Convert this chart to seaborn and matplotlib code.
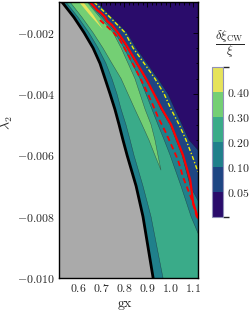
import numpy as np
import matplotlib
matplotlib.use('Agg')
import matplotlib as mpl
import matplotlib.pyplot as plt
import seaborn as sns
from matplotlib.colors import ListedColormap, BoundaryNorm
from matplotlib.ticker import MultipleLocator, FuncFormatter

sns.set_theme(style='ticks')
plt.rcParams['font.family'] = ['DejaVu Serif']
plt.rcParams['mathtext.fontset'] = 'cm'

# ---- data (gx position of each contour edge at given lambda_2) ----
lam_rows = [-0.0010, -0.0015, -0.0020, -0.0025, -0.0030, -0.0035, -0.0040, -0.0045,
            -0.0050, -0.0055, -0.0060, -0.0070, -0.0080, -0.0090, -0.0100]

# edge of the excluded (gray) region, thick black line
gx_excl = [0.530, 0.582, 0.626, 0.665, 0.695, 0.717, 0.739, 0.760,
           0.778, 0.795, 0.813, 0.852, 0.882, 0.904, 0.926]
# 0.10 / 0.20 edge on the left side
gx_lev10_left = [0.547, 0.600, 0.647, 0.687, 0.721, 0.747, 0.769, 0.787,
                 0.808, 0.826, 0.843, 0.882, 0.917, 0.943, 0.969]

# 0.30 "tongue"
lam_tongue = [-0.0010, -0.0015, -0.0020, -0.0025, -0.0030, -0.0035, -0.0040, -0.0045,
              -0.0050, -0.0055, -0.0060, -0.00648]
gx_tongue_left = [0.565, 0.617, 0.665, 0.708, 0.747, 0.787, 0.817, 0.847, 0.878, 0.908, 0.934, 0.960]
gx_tongue_right = [0.639, 0.695, 0.752, 0.787, 0.817, 0.847, 0.869, 0.891, 0.917, 0.934, 0.947, 0.960]

# 0.40 sliver at the top
lam_top = [-0.0010, -0.0014, -0.0019]
gx_top_left = [0.604, 0.648, 0.708]
gx_top_right = [0.622, 0.664, 0.708]

# 0.20 / 0.10 edge on the right side
lam_lev20 = lam_rows[:13] + [-0.0087]
gx_lev20 = [0.643, 0.704, 0.760, 0.800, 0.834, 0.869, 0.895, 0.921,
            0.947, 0.974, 1.000, 1.047, 1.091, 1.130]
# 0.10 / 0.05 edge
lam_lev10 = lam_rows[:12] + [-0.0076]
gx_lev10 = [0.647, 0.713, 0.769, 0.813, 0.852, 0.891, 0.930, 0.960,
            1.000, 1.026, 1.052, 1.087, 1.130]
# 0.05 edge
lam_lev05 = lam_rows[:10] + [-0.0059]
gx_lev05 = [0.682, 0.747, 0.813, 0.852, 0.900, 0.947, 0.991, 1.021, 1.052, 1.082, 1.130]

# red solid line
lam_red = [-0.00100, -0.00126, -0.00136, -0.00149, -0.00162, -0.00175, -0.00201, -0.00234,
           -0.0025, -0.0030, -0.0035, -0.0040, -0.0045, -0.0050, -0.0055, -0.0060,
           -0.0068, -0.00755, -0.00804]
gx_red = [0.652, 0.682, 0.700, 0.717, 0.726, 0.747, 0.774, 0.804,
          0.817, 0.856, 0.895, 0.930, 0.965, 1.004, 1.030, 1.056,
          1.087, 1.100, 1.121]
# red dashed line
lam_red_dash = [-0.00159, -0.00198, -0.00224, -0.00266, -0.00322, -0.00380, -0.00429,
                -0.00475, -0.00527, -0.00615, -0.00671, -0.00746, -0.00804]
gx_red_dash = [0.695, 0.752, 0.782, 0.813, 0.852, 0.891, 0.921,
               0.947, 0.982, 1.034, 1.056, 1.095, 1.117]
# yellow dash-dot line
lam_yellow = lam_rows[:11] + [-0.00654]
gx_yellow = [0.669, 0.739, 0.804, 0.839, 0.887, 0.934, 0.974, 1.004, 1.039, 1.069, 1.095, 1.121]

levels = [0.0, 0.05, 0.10, 0.20, 0.30, 0.40, 0.50]
level_ticks = [0.05, 0.10, 0.20, 0.30, 0.40]

# colours
c_purple = '#2a0c6b'
c_dblue = '#1e4583'
c_teal = '#20808b'
c_green = '#3aab89'
c_lgreen = '#74cf74'
c_yellow = '#e6e35b'
c_gray = '#aaaaaa'

XMIN, XMAX = 0.517, 1.121
YMIN, YMAX = -0.010, -0.001

fig = plt.figure(figsize=(2.51, 3.16), dpi=100)
ax = fig.add_axes([59/251, 38/316, 139/251, 276/316])
ax.set_xlim(XMIN, XMAX)
ax.set_ylim(YMIN, YMAX)
ax.set_facecolor(c_purple)


def fill_left(gx, lam, color):
    # region between the left frame and a contour edge
    x = [XMIN - 1, gx[0]] + list(gx) + [gx[-1], XMIN - 1]
    y = [YMAX + 1, YMAX + 1] + list(lam) + [YMIN - 1, YMIN - 1]
    ax.fill(x, y, color=color, lw=0)
    ax.plot(gx, lam, color='#1a1a2a', lw=0.35, alpha=0.6)


fill_left(gx_lev05, lam_lev05, c_dblue)
fill_left(gx_lev10, lam_lev10, c_teal)
fill_left(gx_lev20, lam_lev20, c_green)

ax.fill(gx_tongue_left + gx_tongue_right[::-1], lam_tongue + lam_tongue[::-1],
        color=c_lgreen, lw=0)
ax.plot(gx_tongue_left + gx_tongue_right[::-1], lam_tongue + lam_tongue[::-1],
        color='#1a1a2a', lw=0.35, alpha=0.6)
ax.fill(gx_top_left + gx_top_right[::-1], lam_top + lam_top[::-1], color=c_yellow, lw=0)

fill_left(gx_lev10_left, lam_rows, c_teal)
fill_left(gx_excl, lam_rows, c_gray)

sns.lineplot(x=gx_excl, y=lam_rows, sort=False, estimator=None, color='black', lw=2.0, ax=ax)
sns.lineplot(x=gx_red, y=lam_red, sort=False, estimator=None, color='#ff0000', lw=1.6, ax=ax)
sns.lineplot(x=gx_red_dash, y=lam_red_dash, sort=False, estimator=None, color='#ff0000',
             lw=1.3, dashes=False, ax=ax, linestyle=(0, (3, 2)))
sns.lineplot(x=gx_yellow, y=lam_yellow, sort=False, estimator=None, color='#f2f000',
             lw=1.0, dashes=False, ax=ax, linestyle=(0, (3, 1.5, 1, 1.5)))

ax.set_xlim(XMIN, XMAX)
ax.set_ylim(YMIN, YMAX)
ax.xaxis.set_major_locator(MultipleLocator(0.1))
ax.xaxis.set_minor_locator(MultipleLocator(0.02))
ax.yaxis.set_major_locator(MultipleLocator(0.002))
ax.yaxis.set_minor_locator(MultipleLocator(0.0005))
ax.xaxis.set_major_formatter(FuncFormatter(lambda v, p: f'${v:.1f}$'))
ax.yaxis.set_major_formatter(FuncFormatter(lambda v, p: f'${v:.3f}$'))
ax.tick_params(which='both', direction='in', top=True, right=True, color='black',
               labelsize=8.5, width=0.6)
ax.tick_params(which='major', length=3.5, pad=3)
ax.tick_params(which='minor', length=1.8)
ax.set_xlabel('')
ax.set_ylabel('')
for s in ax.spines.values():
    s.set_color('black')
    s.set_linewidth(1.0)

fig.text(125/251, 1 - 305/316, r'$\mathrm{gx}$', ha='center', va='center', fontsize=10)
fig.text(7/251, 1 - 123/316, r'$\lambda_2$', ha='center', va='center', rotation=90, fontsize=10)

# discrete colour bar
cax = fig.add_axes([212/251, 99/316, 11/251, 150/316])
cmap = ListedColormap([c_purple, c_dblue, c_teal, c_green, c_lgreen, c_yellow])
norm = BoundaryNorm(levels, cmap.N)
cb = fig.colorbar(mpl.cm.ScalarMappable(norm=norm, cmap=cmap), cax=cax,
                  spacing='uniform', ticks=level_ticks)
cb.ax.set_yticklabels([f'${t:.2f}$' for t in level_ticks])
cb.ax.tick_params(length=0, pad=3, labelsize=8.5)
cb.outline.set_edgecolor('#9090b8')
cb.outline.set_linewidth(0.8)
fig.text(230/251, 1 - 44/316, r'$\dfrac{\delta\xi_{\mathrm{CW}}}{\xi}$',
         ha='center', va='center', fontsize=9)

fig.savefig('out.png', dpi=100)
